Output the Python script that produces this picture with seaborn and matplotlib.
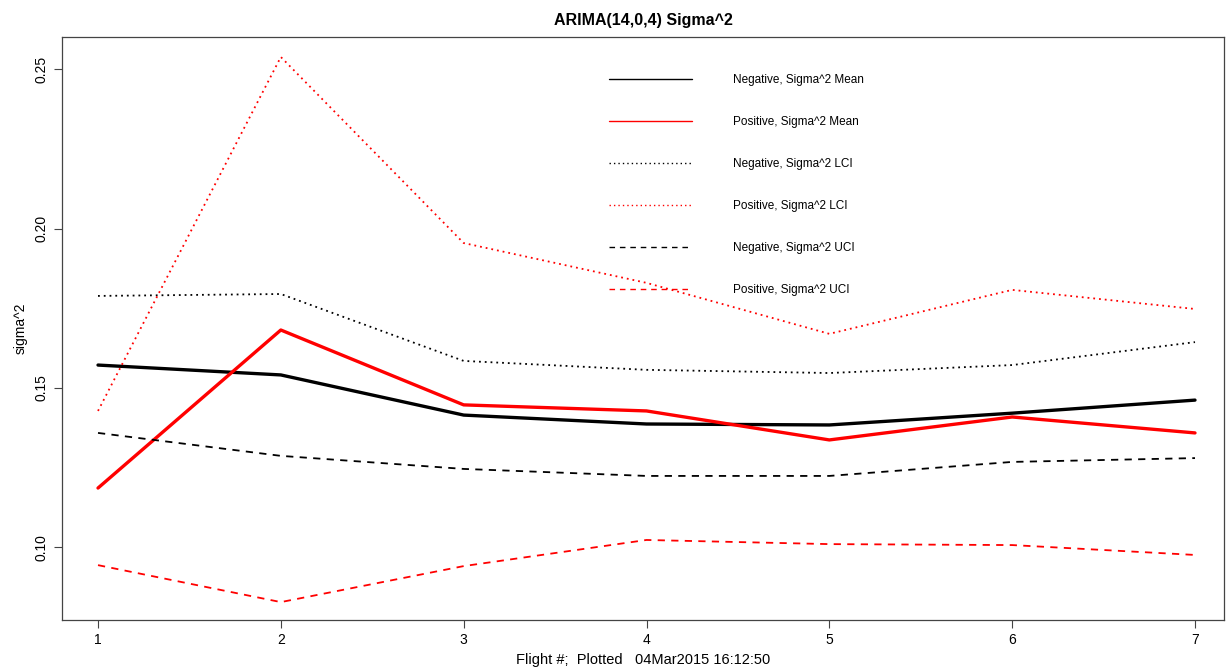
import matplotlib
matplotlib.use("Agg")
import matplotlib.pyplot as plt
from matplotlib.lines import Line2D
import seaborn as sns
import numpy as np

flights = [1, 2, 3, 4, 5, 6, 7]
neg_mean = [0.1572, 0.1541, 0.1415, 0.1387, 0.1384, 0.1421, 0.1462]
pos_mean = [0.1186, 0.1682, 0.1447, 0.1428, 0.1337, 0.1409, 0.1359]
neg_lci = [0.1789, 0.1795, 0.1585, 0.1557, 0.1547, 0.1572, 0.1644]
pos_lci = [0.1428, 0.2539, 0.1955, 0.1830, 0.1670, 0.1808, 0.1748]
neg_uci = [0.1359, 0.1287, 0.1246, 0.1224, 0.1224, 0.1268, 0.1280]
pos_uci = [0.0944, 0.0828, 0.0941, 0.1023, 0.1010, 0.1007, 0.0976]
labels = ["Negative, Sigma^2 Mean", "Positive, Sigma^2 Mean",
          "Negative, Sigma^2 LCI", "Positive, Sigma^2 LCI",
          "Negative, Sigma^2 UCI", "Positive, Sigma^2 UCI"]
yticks = [0.10, 0.15, 0.20, 0.25]

sns.set_theme(style="white")
plt.rcParams['font.family'] = ['Liberation Sans', 'DejaVu Sans']
plt.rcParams.update({"text.color": "black", "axes.labelcolor": "black",
                     "xtick.color": "black", "ytick.color": "black"})

fig = plt.figure(figsize=(12.31, 6.71), dpi=100)
ax = fig.add_axes([62/1231, 51/671, (1224-62)/1231, (620-37)/671])

dotted = (0, (1, 2.2))
dashed = (0, (4, 3.5))
series = [
    (neg_mean, "black", "-", 2.4),
    (pos_mean, "red", "-", 2.4),
    (neg_lci, "black", dotted, 1.3),
    (pos_lci, "red", dotted, 1.3),
    (neg_uci, "black", dashed, 1.3),
    (pos_uci, "red", dashed, 1.3),
]
for vals, c, ls, lw in series:
    sns.lineplot(x=flights, y=vals, color=c, linestyle=ls, linewidth=lw, ax=ax, legend=False)

ax.set_xlim(1 - 36/182.8, 7 + 29/182.8)
ax.set_ylim(0.15 - 232*0.05/159.3, 0.15 + 351*0.05/159.3)
ax.set_xticks(flights)
ax.set_xticklabels([str(f) for f in flights], fontsize=10)
ax.set_yticks(yticks)
ax.set_yticklabels([f"{t:.2f}" for t in yticks], fontsize=10, rotation=90, va="center")
ax.tick_params(axis="both", direction="out", length=6, width=0.8, color="#444444", bottom=True, left=True)
for s in ax.spines.values():
    s.set_color("#444444")
    s.set_linewidth(0.9)

ax.set_title("ARIMA(14,0,4) Sigma^2", fontsize=11.5, fontweight="bold", pad=9, color="black")
ax.set_xlabel("Flight #;  Plotted   04Mar2015 16:12:50", fontsize=10.5, labelpad=4)
ax.set_ylabel("sigma^2", fontsize=10, labelpad=5)

handles = [Line2D([], [], color=c, linestyle=ls, linewidth=1.0) for _, c, ls, _ in series]
leg = ax.legend(handles, labels, loc="upper left", bbox_to_anchor=(0.462, 0.955),
                frameon=False, fontsize=8.5, labelspacing=2.55, handlelength=7,
                handletextpad=3.5)

fig.savefig("out.png", dpi=100)
